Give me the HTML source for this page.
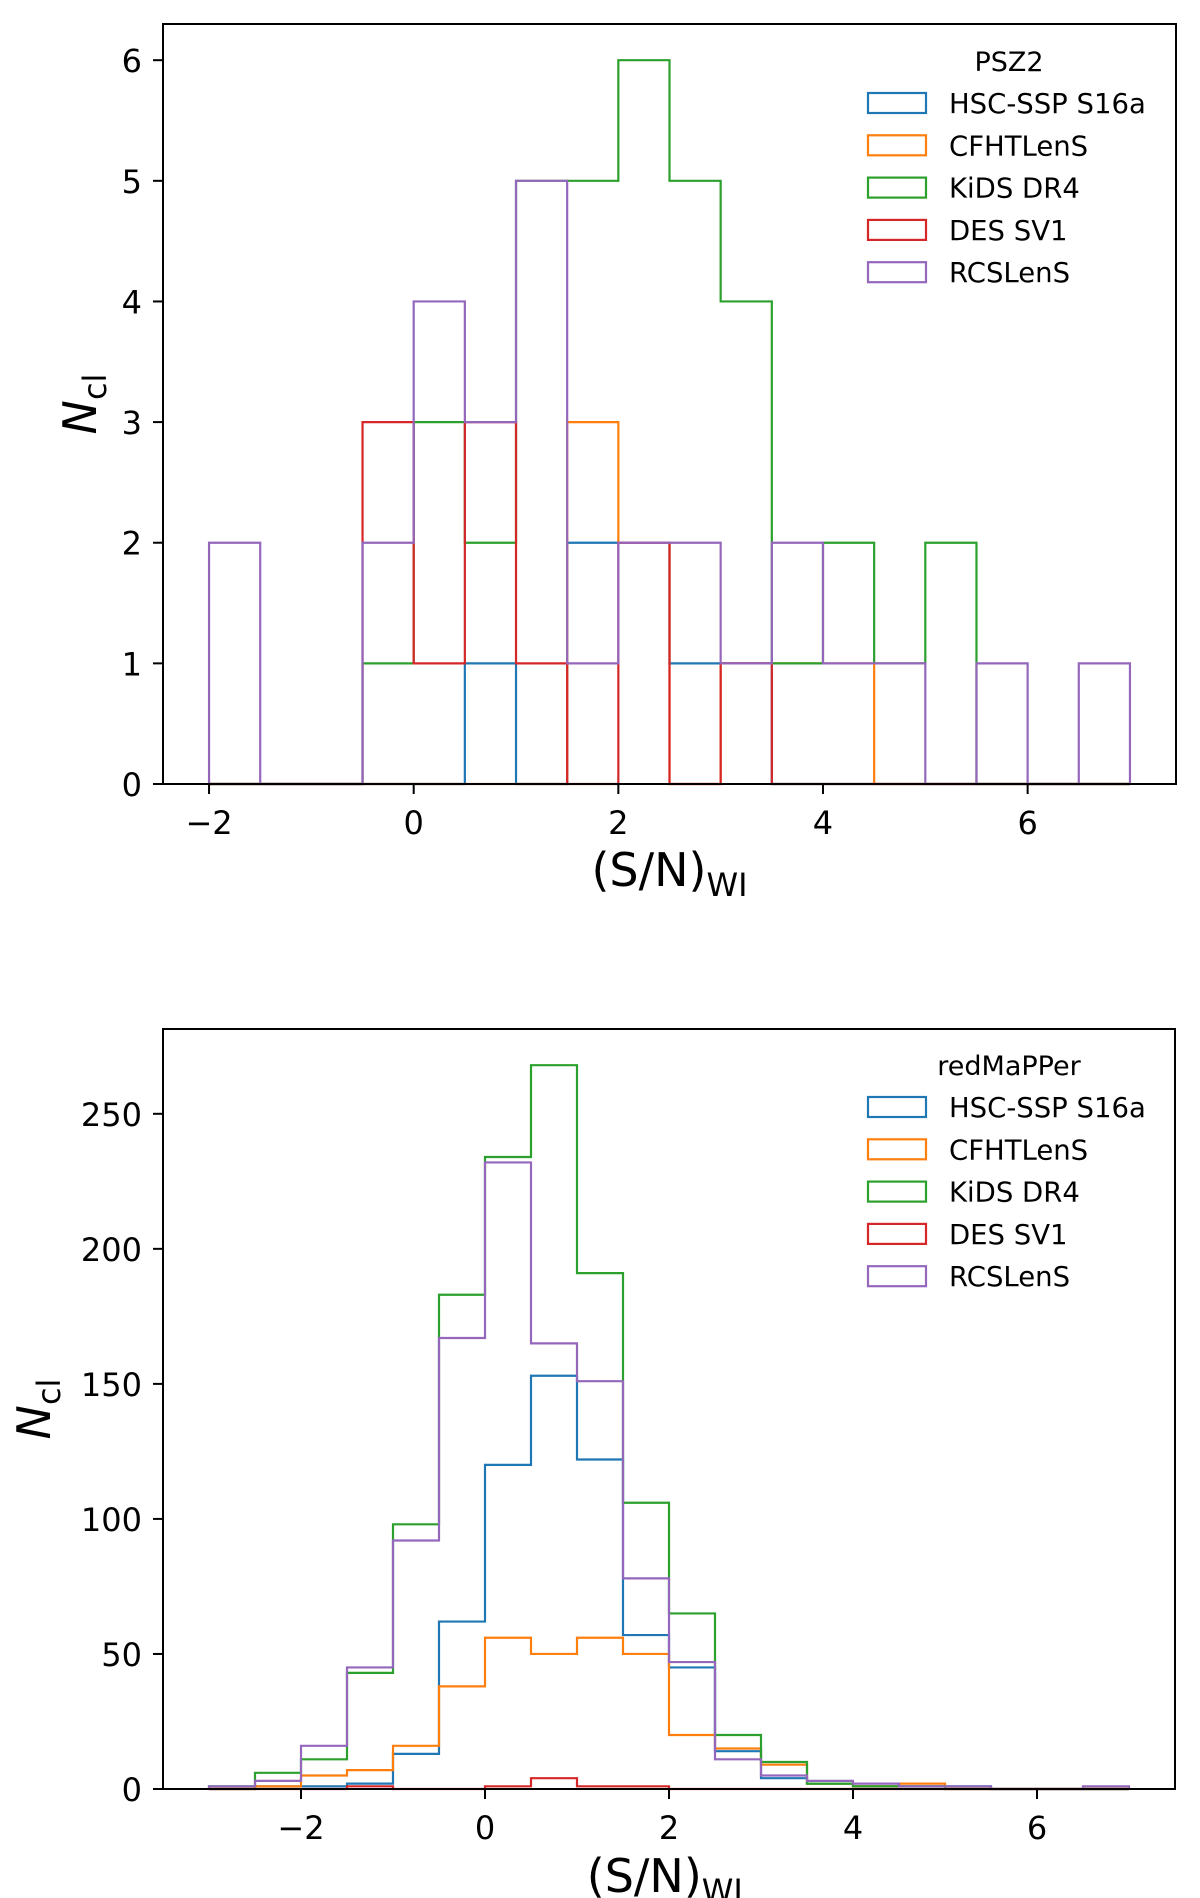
<!DOCTYPE html>
<html><head><meta charset="utf-8"><style>
html,body{margin:0;padding:0;background:#fff;}
svg{display:block;}
text{font-family:"DejaVu Sans","Liberation Sans",sans-serif;fill:#000;}
</style></head>
<body>
<svg id="fig" width="1200" height="1898" viewBox="0 0 1200 1898" xmlns="http://www.w3.org/2000/svg"></svg>
<script>
// ---- data: top panel (PSZ2), bins from -2 to 7 step 0.5 ----
const topEdgeStart = -2;
const topBinWidth = 0.5;
const topHSC   = [0,0,0,0,0,1,0,2,2,1,1,0,0,0,0,0,0,0];
const topCFHT  = [0,0,0,0,0,0,0,3,2,0,1,1,1,0,0,0,0,0];
const topKiDS  = [0,0,0,1,3,2,5,5,6,5,4,1,2,1,2,0,0,0];
const topDES   = [0,0,0,3,1,3,1,0,2,0,1,0,0,0,0,0,0,0];
const topRCS   = [2,0,0,2,4,3,5,1,2,2,1,2,1,1,0,1,0,1];
const topXTicks = [-2,0,2,4,6];
const topYTicks = [0,1,2,3,4,5,6];
// ---- data: bottom panel (redMaPPer), bins from -3 to 7 step 0.5 ----
const botEdgeStart = -3;
const botBinWidth = 0.5;
const botHSC   = [0,1,1,2,13,62,120,153,122,57,45,14,4,2,1,1,1,0,0,0];
const botCFHT  = [0,1,5,7,16,38,56,50,56,50,20,15,9,2,1,2,0,0,0,0];
const botKiDS  = [1,6,11,43,98,183,234,268,191,106,65,20,10,2,1,1,0,0,0,0];
const botDES   = [0,0,0,1,0,0,1,4,1,1,0,0,0,0,0,0,0,0,0,0];
const botRCS   = [1,3,16,45,92,167,232,165,151,78,47,11,5,3,2,1,1,0,0,1];
const botXTicks = [-2,0,2,4,6];
const botYTicks = [0,50,100,150,200,250];
const seriesNames = ["HSC-SSP S16a","CFHTLenS","KiDS DR4","DES SV1","RCSLenS"];
const colors = ["#1f77b4","#ff7f0e","#2ca02c","#d62728","#9467bd"];

const NS="http://www.w3.org/2000/svg";
const svg=document.getElementById('fig');
function mk(tag,attrs,parent){const e=document.createElementNS(NS,tag);for(const k in attrs)e.setAttribute(k,attrs[k]);(parent||svg).appendChild(e);return e;}

function panel(cfg){
  const g=mk('g',{});
  
  
  const L=cfg.left,R=cfg.right,T=cfg.top,B=cfg.bottom;
  const sx=v=>L+(v-cfg.xmin)/(cfg.xmax-cfg.xmin)*(R-L);
  const sy=v=>B-(v-cfg.ymin)/(cfg.ymax-cfg.ymin)*(B-T);
  cfg.series.forEach((vals,si)=>{
    let pts=[];
    const n=vals.length;
    pts.push([sx(cfg.start),sy(0)]);
    for(let i=0;i<n;i++){
      const x0=cfg.start+i*cfg.bw,x1=x0+cfg.bw;
      pts.push([sx(x0),sy(vals[i])]);pts.push([sx(x1),sy(vals[i])]);
    }
    pts.push([sx(cfg.start+n*cfg.bw),sy(0)]);
    const p=mk('polyline',{points:pts.map(p=>p[0].toFixed(2)+','+p[1].toFixed(2)).join(' '),fill:'none',stroke:colors[si],'stroke-width':2.2,'stroke-linejoin':'miter'},g);
    
    
  });
  const fr=mk('rect',{x:L,y:T,width:R-L,height:B-T,fill:'none',stroke:'#000','stroke-width':2},g);
  
  
  cfg.xticks.forEach(v=>{
    const x=sx(v);
    mk('line',{x1:x,y1:B,x2:x,y2:B+10,stroke:'#000','stroke-width':2},g);
    const t=mk('text',{x:x,y:B+50,'font-size':32,'text-anchor':'middle'},g);
    t.textContent=(v<0?'\u2212'+(-v):String(v));
    
    
  });
  cfg.yticks.forEach(v=>{
    const y=sy(v);
    mk('line',{x1:L-10,y1:y,x2:L,y2:y,stroke:'#000','stroke-width':2},g);
    const t=mk('text',{x:142,y:y+12,'font-size':32,'text-anchor':'end'},g);
    t.textContent=String(v);
    
    
  });
  const xl=mk('text',{x:(L+R)/2,y:cfg.xlabelY,'font-size':46,'text-anchor':'middle'},g);
  
  
  const a=mk('tspan',{},xl);a.textContent='(S/N)';
  const b=mk('tspan',{'font-size':32,dy:10},xl);b.textContent=cfg.sub;
  const yl=mk('text',{transform:`translate(${cfg.ylabelX},${(T+B)/2}) rotate(-90)`,'font-size':46,'text-anchor':'middle'},g);
  
  
  const n1=mk('tspan',{'font-style':'italic'},yl);n1.textContent='N';
  const n2=mk('tspan',{'font-size':32,dy:10},yl);n2.textContent='cl';
  const lg=mk('g',{},g);
  
  
  const tt=mk('text',{x:1009,y:cfg.legTop,'font-size':27,'text-anchor':'middle'},lg);
  tt.textContent=cfg.title;
  
  
  seriesNames.forEach((nm,i)=>{
    const cy=cfg.legTop+32+i*42.3;
    const r=mk('rect',{x:868,y:cy-10,width:58,height:20,fill:'none',stroke:colors[i],'stroke-width':2.2},lg);
    
    
    const t=mk('text',{x:949,y:cy+10,'font-size':27.5},lg);
    t.textContent=nm;
    
    
  });
}

panel({name:'psz2-panel',left:163,right:1176,top:24,bottom:784,xmin:-2.45,xmax:7.45,ymin:0,ymax:6.3,
  start:topEdgeStart,bw:topBinWidth,series:[topHSC,topCFHT,topKiDS,topDES,topRCS],
  xticks:topXTicks,yticks:topYTicks,sub:'WI',xlabelY:886,ylabelX:96,title:'PSZ2',legTop:71});
panel({name:'redmapper-panel',left:163,right:1175,top:1029,bottom:1789,xmin:-3.5,xmax:7.5,ymin:0,ymax:281.4,
  start:botEdgeStart,bw:botBinWidth,series:[botHSC,botCFHT,botKiDS,botDES,botRCS],
  xticks:botXTicks,yticks:botYTicks,sub:'WL',xlabelY:1892,ylabelX:50,title:'redMaPPer',legTop:1075});
</script>
</body></html>
